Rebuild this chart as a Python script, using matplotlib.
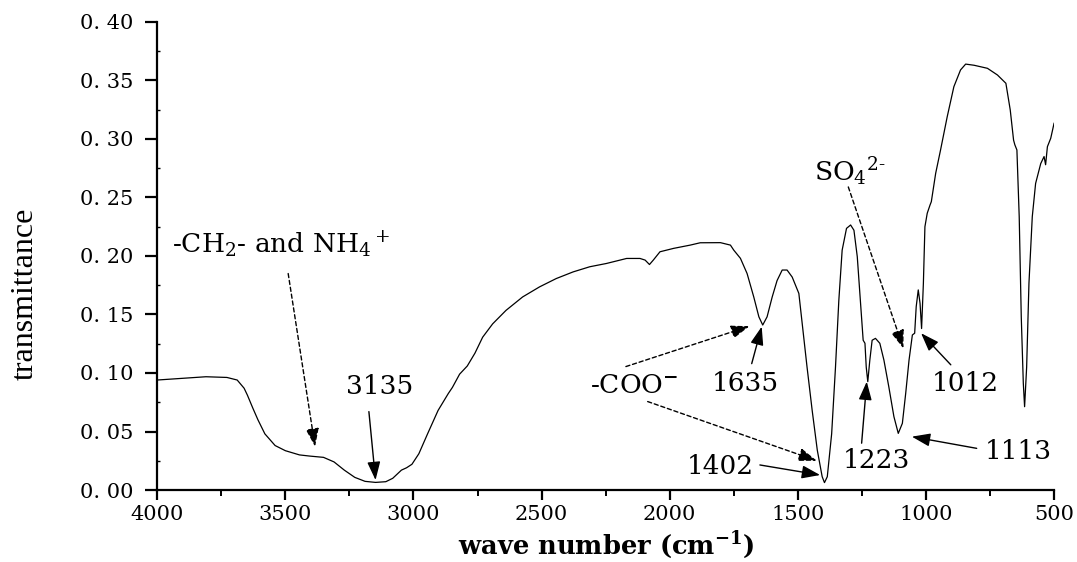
import matplotlib
matplotlib.use("Agg")
import matplotlib.pyplot as plt
from matplotlib.ticker import MultipleLocator, FuncFormatter

# ---- data ----
wavenumber = [4000, 3900, 3810, 3728, 3688, 3661, 3648, 3627, 3607, 3580, 3540, 3500,
              3445, 3405, 3351, 3310, 3270, 3229, 3189, 3148, 3108, 3081, 3047, 3027,
              3006, 2979, 2945, 2904, 2864, 2848, 2820, 2790, 2760, 2730, 2691, 2639,
              2574, 2508, 2443, 2377, 2312, 2247, 2168, 2116, 2096, 2079, 2064, 2038,
              1985, 1920, 1881, 1802, 1763, 1750, 1724, 1698, 1672, 1652, 1637, 1620,
              1600, 1581, 1561, 1542, 1522, 1496, 1483, 1464, 1444, 1424, 1405, 1396,
              1385, 1368, 1353, 1340, 1327, 1310, 1294, 1281, 1268, 1255, 1245, 1238,
              1233, 1227, 1219, 1210, 1197, 1180, 1164, 1145, 1125, 1108, 1092, 1079,
              1066, 1053, 1044, 1038, 1030, 1023, 1017, 1010, 1004, 995, 984, 979,
              962, 943, 917, 891, 865, 845, 812, 760, 721, 688, 671, 658, 653, 645,
              636, 628, 620, 615, 607, 598, 585, 572, 552, 539, 533, 526, 513, 500]
transmittance = [0.094, 0.0955, 0.0968, 0.0962, 0.094, 0.087, 0.081, 0.070, 0.060, 0.048, 0.038, 0.0336,
                 0.030, 0.029, 0.0279, 0.024, 0.017, 0.0108, 0.0074, 0.0065, 0.0071, 0.010, 0.017, 0.019,
                 0.022, 0.031, 0.048, 0.068, 0.0825, 0.0877, 0.099, 0.106, 0.117, 0.1306, 0.142, 0.1535,
                 0.165, 0.1736, 0.1807, 0.1864, 0.1908, 0.1936, 0.1979, 0.1979, 0.1965, 0.1927, 0.1965, 0.2036,
                 0.2065, 0.2093, 0.2113, 0.2114, 0.2093, 0.205, 0.198, 0.185, 0.165, 0.148, 0.141, 0.148,
                 0.165, 0.179, 0.188, 0.188, 0.182, 0.168, 0.1425, 0.105, 0.068, 0.034, 0.0114, 0.0063,
                 0.0114, 0.048, 0.105, 0.162, 0.205, 0.2236, 0.2265, 0.222, 0.1994, 0.1595, 0.128, 0.1254,
                 0.105, 0.0926, 0.111, 0.128, 0.1296, 0.1254, 0.111, 0.0883, 0.0627, 0.0484, 0.057, 0.0826,
                 0.111, 0.1325, 0.134, 0.1567, 0.171, 0.1595, 0.138, 0.1766, 0.225, 0.2365, 0.2436, 0.2464,
                 0.2707, 0.2906, 0.319, 0.3447, 0.359, 0.364, 0.363, 0.3604, 0.3547, 0.3476, 0.3248, 0.299, 0.295, 0.2906,
                 0.2336, 0.148, 0.0912, 0.0712, 0.105, 0.1766, 0.2336, 0.262, 0.279, 0.285, 0.278, 0.2934, 0.3006, 0.3134]

# annotation labels
label_ch = r"-CH$_2$- and NH$_4$$^+$"
label_coo = r"-COO$^{\mathbf{-}}$"
label_so4 = r"SO$_4$$^{2\text{-}}$"
peak_labels = ["3135", "1635", "1402", "1223", "1113", "1012"]

plt.rcParams['font.family'] = ['DejaVu Serif']
plt.rcParams['mathtext.fontset'] = 'dejavuserif'

fig = plt.figure(figsize=(10.77, 5.62), dpi=100)
ax = fig.add_axes([0.146, 0.1281, 0.8327, 0.8328])
ax.plot(wavenumber, transmittance, color='black', lw=0.9)

ax.set_xlim(4000, 500)
ax.set_ylim(0, 0.40)
for s in ['top', 'right']:
    ax.spines[s].set_visible(False)
for s in ['left', 'bottom']:
    ax.spines[s].set_linewidth(1.6)

ax.xaxis.set_major_locator(MultipleLocator(500))
ax.xaxis.set_minor_locator(MultipleLocator(250))
ax.yaxis.set_major_locator(MultipleLocator(0.05))
ax.yaxis.set_minor_locator(MultipleLocator(0.025))
ax.yaxis.set_major_formatter(FuncFormatter(lambda v, p: f"{v:.2f}".replace('.', '. ')))
ax.tick_params(axis='x', which='major', length=7, width=1.6, direction='out', labelsize=15, pad=4)
ax.tick_params(axis='x', which='minor', length=4, width=1.4, direction='out')
ax.tick_params(axis='y', which='major', length=9, width=1.6, direction='out', labelsize=15, pad=8)
ax.tick_params(axis='y', which='minor', length=2, width=1.0, direction='in')

fig.text(25 / 1077, 1 - 294 / 562, "transmittance", rotation=90, ha='center', va='center',
         fontsize=23, family='Liberation Serif')
fig.text(606 / 1077, 1 - 545 / 562, r"wave number (cm$^{\mathbf{-1}}$)", ha='center', va='center',
         fontsize=18.5, fontweight='bold')

fs = 19
solid = dict(arrowstyle='-|>,head_length=0.7,head_width=0.25', color='black', lw=1.0,
             shrinkA=0, shrinkB=0, mutation_scale=16)
dashed = dict(solid, linestyle=(0, (3, 2)))

ax.text(3943, 0.2094, label_ch, fontsize=fs, ha='left', va='center')
ax.annotate('', xy=(3384, 0.037), xytext=(3489, 0.185), arrowprops=dashed)

ax.text(3131, 0.0883, peak_labels[0], fontsize=fs, ha='center', va='center')
ax.annotate('', xy=(3148, 0.0085), xytext=(3174, 0.067), arrowprops=solid)

ax.text(2139, 0.0897, label_coo, fontsize=fs, ha='center', va='center')
ax.annotate('', xy=(1689, 0.140), xytext=(2171, 0.1055), arrowprops=dashed)
ax.annotate('', xy=(1426, 0.025), xytext=(2086, 0.0756), arrowprops=dashed)

ax.text(1706, 0.0906, peak_labels[1], fontsize=fs, ha='center', va='center')
ax.annotate('', xy=(1641, 0.1396), xytext=(1680, 0.108), arrowprops=solid)

ax.text(1804, 0.0205, peak_labels[2], fontsize=fs, ha='center', va='center')
ax.annotate('', xy=(1413, 0.0128), xytext=(1648, 0.0214), arrowprops=solid)

ax.text(1192, 0.0252, peak_labels[3], fontsize=fs, ha='center', va='center')
ax.annotate('', xy=(1231, 0.0926), xytext=(1251, 0.040), arrowprops=solid)

ax.text(639, 0.033, peak_labels[4], fontsize=fs, ha='center', va='center')
ax.annotate('', xy=(1055, 0.0456), xytext=(802, 0.0356), arrowprops=solid)

ax.text(847, 0.0906, peak_labels[5], fontsize=fs, ha='center', va='center')
ax.annotate('', xy=(1019, 0.134), xytext=(903, 0.107), arrowprops=solid)

ax.text(1297, 0.272, label_so4, fontsize=fs, ha='center', va='center')
ax.annotate('', xy=(1088, 0.121), xytext=(1303, 0.259), arrowprops=dashed)

fig.savefig("out.png", dpi=100)
